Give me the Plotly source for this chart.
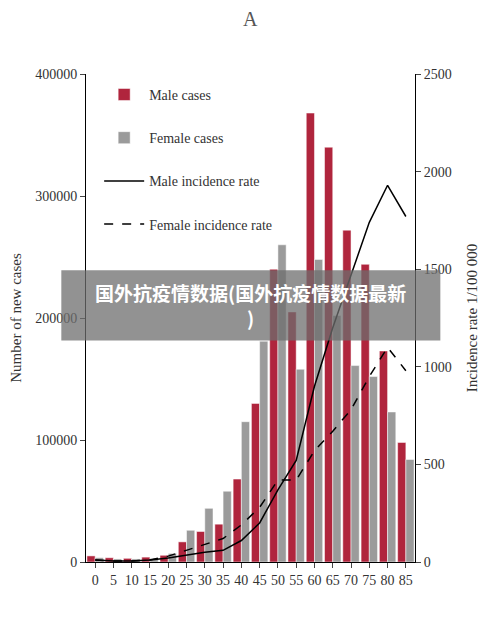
import plotly.graph_objects as go

ages = ["0", "5", "10", "15", "20", "25", "30", "35", "40", "45", "50", "55", "60", "65", "70", "75", "80", "85"]
male_cases = [5000, 3500, 3000, 4000, 5500, 16500, 25000, 31000, 68000, 130000, 240000, 205000, 368000, 340000, 272000, 244000, 173000, 98000]
female_cases = [3500, 2500, 2500, 3000, 7000, 26000, 44000, 58000, 115000, 181000, 260000, 158000, 248000, 202000, 161000, 152000, 123000, 84000]
male_rate = [10, 5, 5, 10, 20, 35, 50, 60, 110, 200, 370, 520, 900, 1200, 1470, 1740, 1930, 1770]
female_rate = [10, 5, 5, 10, 30, 60, 90, 120, 190, 280, 420, 420, 570, 670, 780, 950, 1100, 980]

serif = "Liberation Serif"
fig = go.Figure()
fig.add_bar(x=ages, y=male_cases, name="Male cases", marker_color="#b0253d", legendgroup="a")
fig.add_bar(x=ages, y=female_cases, name="Female cases", marker_color="#9b9b9b", legendgroup="b")
fig.add_scatter(x=ages, y=male_rate, name="Male incidence rate", yaxis="y2", legendgroup="c",
                mode="lines", line=dict(color="black", width=1.5))
fig.add_scatter(x=ages, y=female_rate, name="Female incidence rate", yaxis="y2", legendgroup="d",
                mode="lines", line=dict(color="black", width=1.5, dash="dash"))

fig.update_layout(
    width=500, height=620, template="plotly_white",
    margin=dict(l=78, r=93, t=66, b=66, autoexpand=False),
    paper_bgcolor="white", plot_bgcolor="white",
    font=dict(family=serif, size=14, color="#333"),
    bargap=0.1, bargroupgap=0.0,
    xaxis=dict(showline=True, linecolor="black", ticks="outside", showgrid=False,
               tickfont=dict(size=14), automargin=False),
    yaxis=dict(range=[0, 400000], dtick=100000, tickformat="d", showline=True,
               linecolor="black", ticks="outside", showgrid=False, zeroline=False,
               automargin=False,
               title=dict(text="Number of new cases", font=dict(size=15))),
    yaxis2=dict(range=[0, 2500], dtick=500, overlaying="y", side="right",
                showline=True, linecolor="black", ticks="outside", showgrid=False,
                zeroline=False, automargin=False,
                title=dict(text="Incidence rate 1/100 000", font=dict(size=15))),
    legend=dict(x=0.04, y=0.99, xanchor="left", yanchor="top", bgcolor="rgba(0,0,0,0)",
                tracegroupgap=22, itemwidth=40, font=dict(size=14)),
    annotations=[
        dict(text="A", x=0.5, y=1.14, xref="paper", yref="paper", showarrow=False,
             font=dict(size=20, family=serif, color="#555")),
        dict(text="<b>国外抗疫情数据(国外抗疫情数据最新<br>)</b>", x=0.5, y=0.526,
             xref="paper", yref="paper", showarrow=False,
             font=dict(size=19, family="Noto Sans CJK SC", color="white")),
    ],
    shapes=[dict(type="rect", xref="paper", yref="paper", x0=-0.075, x1=1.077,
                 y0=0.454, y1=0.598, fillcolor="rgba(110,110,110,0.75)", line_width=0)],
)
fig.write_html("out.html")
